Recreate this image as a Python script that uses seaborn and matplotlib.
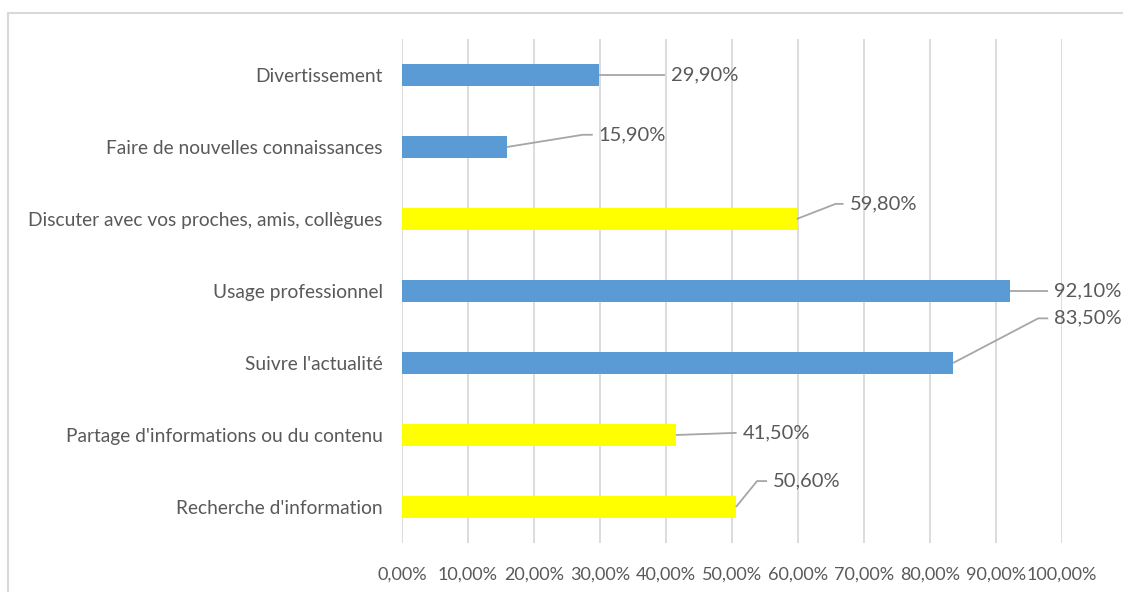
import matplotlib
matplotlib.use("Agg")
import matplotlib.pyplot as plt
from matplotlib.patches import Rectangle
import seaborn as sns
import pandas as pd

# Usage categories (top to bottom) and their shares in percent
categories = [
    "Divertissement",
    "Faire de nouvelles connaissances",
    "Discuter avec vos proches, amis, collègues",
    "Usage professionnel",
    "Suivre l'actualité",
    "Partage d'informations ou du contenu",
    "Recherche d'information",
]
values = [29.9, 15.9, 59.8, 92.1, 83.5, 41.5, 50.6]
groups = ["a", "a", "b", "a", "a", "b", "b"]
value_labels = ["29,90%", "15,90%", "59,80%", "92,10%", "83,50%", "41,50%", "50,60%"]
tick_values = [0, 10, 20, 30, 40, 50, 60, 70, 80, 90, 100]
tick_labels = ["0,00%", "10,00%", "20,00%", "30,00%", "40,00%", "50,00%",
               "60,00%", "70,00%", "80,00%", "90,00%", "100,00%"]

# Leader line geometry for each label: knee offset (x, y) and end x offset
knee_dx = [10.0, 11.5, 5.9, 5.8, 12.9, 9.2, 3.2]
knee_dy = [0.0, -0.17, -0.21, 0.0, -0.62, -0.03, -0.36]
end_dx = [10.0, 13.0, 7.1, 5.8, 14.4, 9.2, 4.7]

BLUE = "#5B9BD5"
YELLOW = "#FFFF00"
TEXT = "#595959"
GRID = "#D9D9D9"

sns.set_theme(style="white")
plt.rcParams["font.family"] = ["Lato", "DejaVu Sans"]

fig = plt.figure(figsize=(11.23, 5.92), dpi=100)
ax = fig.add_axes([402 / 1123, 1 - 543 / 592, 660 / 1123, 504 / 592])

df = pd.DataFrame({"cat": categories, "val": values, "grp": groups})
sns.barplot(data=df, x="val", y="cat", hue="grp", orient="h",
            palette={"a": BLUE, "b": YELLOW}, width=0.3, dodge=False,
            legend=False, ax=ax, edgecolor="none", saturation=1)

ax.set_xlim(0, 100)
ax.set_ylim(6.5, -0.5)
ax.set_xticks(tick_values)
ax.set_xticklabels(tick_labels)
ax.set_xlabel("")
ax.set_ylabel("")
ax.set_axisbelow(True)
ax.grid(axis="x", color=GRID, linewidth=1.3)
ax.grid(axis="y", visible=False)
for s in ax.spines.values():
    s.set_visible(False)
ax.tick_params(axis="y", length=0, pad=14, labelsize=13.8, labelcolor=TEXT)
ax.tick_params(axis="x", length=0, pad=17, labelsize=13, labelcolor=TEXT)

# Data labels with leader lines
for i, (v, lab) in enumerate(zip(values, value_labels)):
    kx, ky, ex = v + knee_dx[i], i + knee_dy[i], v + end_dx[i]
    ax.plot([v, kx, ex], [i, ky, ky], color="#A6A6A6", lw=1.3,
            solid_capstyle="butt", clip_on=False, zorder=3)
    ax.text(ex + 0.9, ky, lab, ha="left", va="center", fontsize=14.5,
            color=TEXT, clip_on=False)

# Outer chart frame
fig.patches.append(Rectangle((8 / 1123, -0.1), 1.2, (592 - 13) / 592 + 0.1,
                             transform=fig.transFigure, fill=False,
                             edgecolor=GRID, linewidth=1.5))

fig.savefig("out.png", dpi=100, facecolor="white")
